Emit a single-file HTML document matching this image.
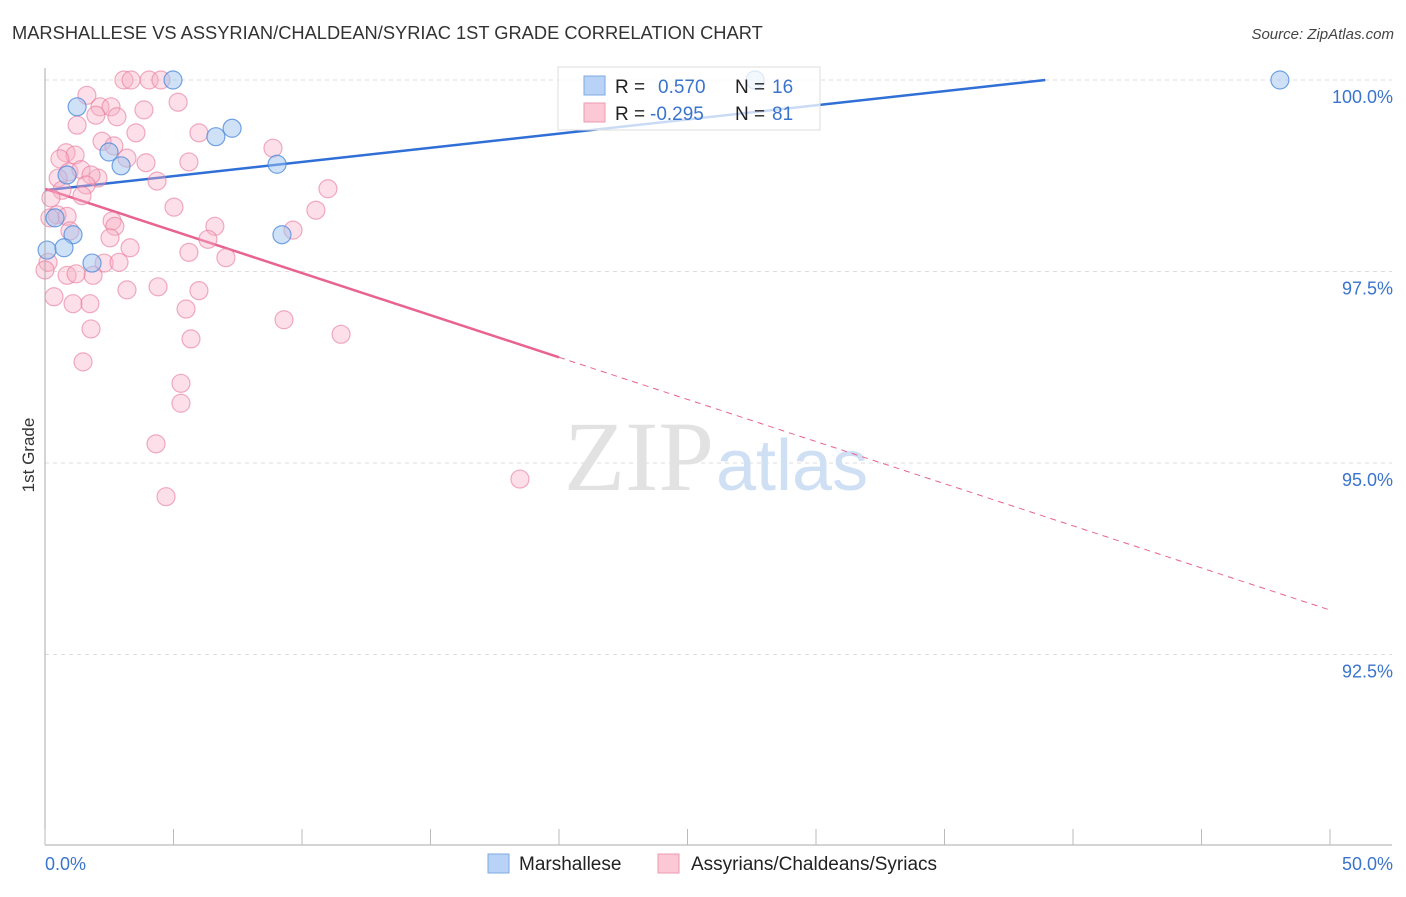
<!DOCTYPE html>
<html><head><meta charset="utf-8"><style>
body{margin:0;background:#fff;font-family:"Liberation Sans",sans-serif}
</style></head><body>
<svg width="1406" height="892" xmlns="http://www.w3.org/2000/svg" id="chart">
<text x="12" y="39" font-size="18.3" fill="#333">MARSHALLESE VS ASSYRIAN/CHALDEAN/SYRIAC 1ST GRADE CORRELATION CHART</text>
<text x="1394" y="39" font-size="15" fill="#444" font-style="italic" text-anchor="end">Source: ZipAtlas.com</text>
<text x="34" y="455" font-size="17" fill="#333" text-anchor="middle" transform="rotate(-90 34 455)">1st Grade</text>
<g id="grid"></g>
<text x="714" y="490" font-size="100" fill="#e2e2e2" text-anchor="end" font-family="Liberation Serif">ZIP</text>
<text x="716" y="490" font-size="72" fill="#cfdff4">atlas</text>
<g id="lines"></g>
<g id="pts"></g>
<g id="axes"></g>
<g>
<rect x="558" y="67" width="262" height="63" fill="#fff" fill-opacity="0.75" stroke="#ddd"/>
<rect x="584" y="76" width="21" height="19" fill="#b9d3f6" stroke="#7fa8e0"/>
<rect x="584" y="103" width="21" height="19" fill="#fcc8d6" stroke="#ee9ab2"/>
<text x="615" y="93" font-size="19" fill="#222">R = </text><text x="658" y="93" font-size="19" fill="#3a74cc">0.570</text>
<text x="735" y="93" font-size="19" fill="#222">N = </text><text x="772" y="93" font-size="19" fill="#3a74cc">16</text>
<text x="615" y="120" font-size="19" fill="#222">R = </text><text x="650" y="120" font-size="19" fill="#3a74cc">-0.295</text>
<text x="735" y="120" font-size="19" fill="#222">N = </text><text x="772" y="120" font-size="19" fill="#3a74cc">81</text>
</g>
<g>
<rect x="488" y="854" width="21" height="19" fill="#b9d3f6" stroke="#7fa8e0"/>
<text x="519" y="870" font-size="19" fill="#222">Marshallese</text>
<rect x="658" y="854" width="21" height="19" fill="#fcc8d6" stroke="#ee9ab2"/>
<text x="691" y="870" font-size="19" fill="#222">Assyrians/Chaldeans/Syriacs</text>
</g>
</svg>
<script>
const yTicks=[100,97.5,95,92.5];
const yTickLabels=["100.0%","97.5%","95.0%","92.5%"];
const xTickLabels=["0.0%","50.0%"];
const blueX=[4.98,1.25,2.49,2.96,6.65,7.28,9.03,0.86,1.09,0.08,0.74,1.83,9.22,27.63,48.05,0.39];
const blueY=[100,99.65,99.06,98.88,99.26,99.37,98.90,98.76,97.98,97.78,97.81,97.61,97.98,100,100,98.20];
const pinkX=[3.07,3.35,4.05,4.51,1.63,2.14,2.57,3.85,5.18,1.98,2.80,3.54,1.25,5.99,2.22,2.68,0.82,1.17,0.58,3.19,3.93,5.60,8.87,0.93,1.40,2.06,0.51,1.79,4.36,1.60,11.01,0.66,1.44,0.23,5.02,10.54,0.47,0.86,0.19,2.61,2.72,6.61,9.65,0.97,2.53,6.34,3.31,5.60,7.04,2.30,2.88,0.12,0,0.86,1.87,1.21,3.19,4.40,5.99,0.35,1.09,1.75,5.49,9.30,1.79,11.52,5.68,1.48,5.29,5.29,4.32,4.71,18.48];
const pinkY=[100,100,100,100,99.80,99.65,99.65,99.61,99.71,99.54,99.52,99.31,99.41,99.31,99.20,99.14,99.05,99.02,98.97,98.98,98.92,98.93,99.11,98.80,98.83,98.72,98.72,98.76,98.68,98.63,98.58,98.56,98.49,98.46,98.34,98.30,98.24,98.22,98.20,98.16,98.09,98.09,98.04,98.03,97.94,97.92,97.81,97.75,97.68,97.61,97.62,97.62,97.52,97.45,97.45,97.47,97.26,97.30,97.25,97.17,97.08,97.08,97.01,96.87,96.75,96.68,96.62,96.32,96.04,95.78,95.25,94.56,94.79];
const blueFit=[98.56,0.037];
const pinkFit=[98.58,-0.110];
const NS="http://www.w3.org/2000/svg";
const X=v=>45+v*25.7, Y=v=>80+(100-v)*76.6;
function mk(t,a,p){const e=document.createElementNS(NS,t);for(const k in a)e.setAttribute(k,a[k]);document.getElementById(p).appendChild(e);return e;}
yTicks.forEach((t,i)=>{
 let l=mk('line',{x1:45,x2:1392,y1:Y(t),y2:Y(t),stroke:'#ddd','stroke-dasharray':'4,4'},'grid');
 
 
 let tx=mk('text',{x:1393,y:Y(t)+23,'font-size':18,fill:'#3a74cc','text-anchor':'end'},'grid');
 tx.textContent=yTickLabels[i];
 
 
});
let ax=mk('line',{x1:45,x2:45,y1:68,y2:845,stroke:'#aaa'},'axes');


let bx=mk('line',{x1:45,x2:1392,y1:845,y2:845,stroke:'#aaa'},'axes');


for(let i=0;i<=10;i++){let t=mk('line',{x1:X(i*5),x2:X(i*5),y1:829,y2:845,stroke:'#bbb'},'axes');
 
 }
[[0,'start',45],[50,'end',1393]].forEach((d,i)=>{let t=mk('text',{x:d[2],y:870,'font-size':18,fill:'#3a74cc','text-anchor':d[1]},'axes');t.textContent=xTickLabels[i];
 
 });
let bl=mk('line',{x1:X(0),y1:Y(blueFit[0]),x2:X((100-blueFit[0])/blueFit[1]),y2:Y(100),stroke:'#2f6fd6','stroke-width':2.5},'lines');


let pl=mk('line',{x1:X(0),y1:Y(pinkFit[0]),x2:X(20),y2:Y(pinkFit[0]+pinkFit[1]*20),stroke:'#e8638f','stroke-width':2.5},'lines');


let pd=mk('line',{x1:X(20),y1:Y(pinkFit[0]+pinkFit[1]*20),x2:X(50),y2:Y(pinkFit[0]+pinkFit[1]*50),stroke:'#e8638f','stroke-width':1,'stroke-dasharray':'6,5'},'lines');


pinkX.forEach((x,i)=>{let c=mk('circle',{cx:X(x),cy:Y(pinkY[i]),r:9,fill:'rgba(248,175,198,0.4)',stroke:'rgba(232,120,155,0.6)','stroke-width':1.2},'pts');
 
 });
blueX.forEach((x,i)=>{let c=mk('circle',{cx:X(x),cy:Y(blueY[i]),r:9,fill:'rgba(160,196,240,0.5)',stroke:'rgba(80,140,220,0.8)','stroke-width':1.2},'pts');
 
 });
</script>
</body></html>
